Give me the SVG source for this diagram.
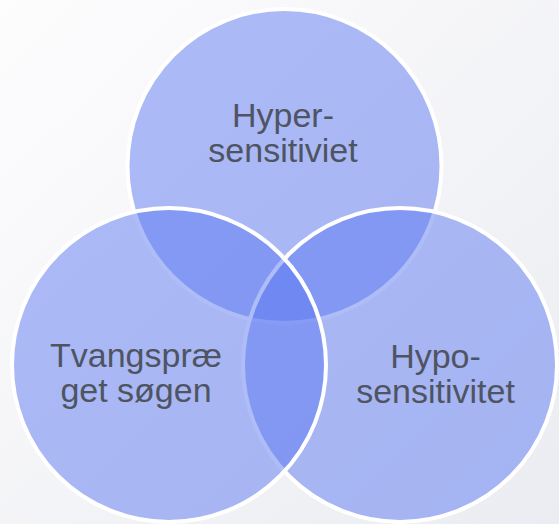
<svg xmlns="http://www.w3.org/2000/svg" width="559" height="524" viewBox="0 0 559 524">
  <defs>
    <linearGradient id="bg" x1="0" y1="0" x2="1" y2="1">
      <stop offset="0" stop-color="#fdfdfe"/>
      <stop offset="1" stop-color="#ebecf1"/>
    </linearGradient>
    <style>
      .c { fill: #5d7af2; fill-opacity: 0.5; stroke: #ffffff; stroke-width: 4; }
      .t { font-family: "Liberation Sans", Arial, sans-serif; font-size: 34px; fill: #4f5462; text-anchor: middle; }
    </style>
  </defs>
  <rect x="0" y="0" width="559" height="524" fill="url(#bg)"/>
  <g id="node-top">
    <circle class="c" cx="284.5" cy="166" r="157"/>
    <text class="t" x="283" y="127">Hyper-</text>
    <text class="t" x="283" y="162">sensitiviet</text>
  </g>
  <g id="node-right">
    <circle class="c" cx="400" cy="365" r="157"/>
    <text class="t" x="435.5" y="368">Hypo-</text>
    <text class="t" x="435.5" y="403">sensitivitet</text>
  </g>
  <g id="node-left">
    <circle class="c" cx="169" cy="365" r="157"/>
    <text class="t" x="136" y="367">Tvangspræ</text>
    <text class="t" x="136" y="402">get søgen</text>
  </g>
  <g id="connectors"/>
</svg>
